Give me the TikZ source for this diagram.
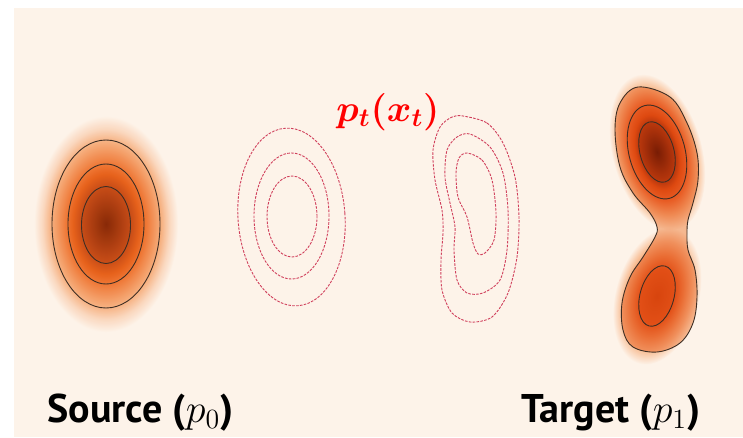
\documentclass[tikz,border=0pt]{standalone}
\usepackage{amsmath}
\usepackage{fontspec}
\setsansfont{PT Sans}
\usepackage{xcolor}
\usepackage{tikz}
\usetikzlibrary{positioning, calc}

\definecolor{bgcol}{HTML}{FDF3E9}
\definecolor{dashred}{HTML}{D0405C}
\definecolor{contcol}{HTML}{3E2E24}
\definecolor{necklight}{HTML}{F7C29E}
% blob colours
\definecolor{sA}{HTML}{8A2C08}
\definecolor{sB}{HTML}{C8501A}
\definecolor{sC}{HTML}{E8661E}
\definecolor{sD}{HTML}{F07A36}
\definecolor{sE}{HTML}{F8B88A}
\definecolor{sF}{HTML}{FCE2D0}
\definecolor{uA}{HTML}{7E2808}
\definecolor{uB}{HTML}{C24E18}
\definecolor{uD}{HTML}{F28040}
\definecolor{uE}{HTML}{F9BE92}
\definecolor{lA}{HTML}{E0601A}
\definecolor{lB}{HTML}{EC6E28}
\definecolor{lC}{HTML}{F49A60}
\definecolor{lE}{HTML}{FAC8A4}

% radial shadings for the densities (0bp = centre, 25bp = edge of the shaded ellipse)
\pgfdeclareradialshading{srcblob}{\pgfpointorigin}{%
  color(0bp)=(sA); color(8.5bp)=(sB); color(11.5bp)=(sC); color(13.5bp)=(sD);
  color(19bp)=(sE); color(22bp)=(sF); color(25bp)=(white); color(50bp)=(white)}
\pgfdeclareradialshading{upblob}{\pgfpointorigin}{%
  color(0bp)=(uA); color(9.5bp)=(uB); color(12bp)=(sC); color(15.5bp)=(uD);
  color(20bp)=(uE); color(25bp)=(white); color(50bp)=(white)}
\pgfdeclareradialshading{lowblob}{\pgfpointorigin}{%
  color(0bp)=(lA); color(10bp)=(lB); color(15bp)=(lC); color(20bp)=(lE);
  color(25bp)=(white); color(50bp)=(white)}

\begin{document}
\begin{tikzpicture}[
  x=1pt, y=1pt,
  contour/.style={draw=contcol, line width=0.9pt},
  flowline/.style={draw=dashred, line width=0.9pt, dash pattern=on 2.6pt off 1.3pt},
  lbl/.style={font=\fontsize{20.74}{24}\selectfont\sffamily\bfseries, scale=1.93, transform shape,
    anchor=base west, inner sep=0pt},
  ptlbl/.style={font=\fontsize{20.74}{24}\selectfont\boldmath, scale=1.8, transform shape,
    text=red, inner sep=0pt}
]
\useasboundingbox (0,0) rectangle (743,437);
% background
\fill[bgcol] (14,0) rectangle (743,429);

% source p0
\shade[shading=srcblob, blend mode=multiply] (106,213) ellipse [x radius=72, y radius=108];
\draw[contour] (106,213) ellipse [x radius=54, y radius=84];
\draw[contour] (106,213) ellipse [x radius=38, y radius=60];
\draw[contour] (106,212) ellipse [x radius=24.5, y radius=38.5];

% target p1 (two modes)
\fill[necklight, blend mode=multiply] plot[smooth cycle, tension=0.6] coordinates {
  (638,350) (670,340) (687,314) (697,284) (698,257) (693,234) (688,217) (687,204)
  (688,187) (695,167) (697,140) (693,114) (680,94) (657,85) (633,90) (623,107)
  (622,134) (630,160) (643,180) (655,200) (657,210) (650,224) (633,244) (620,270)
  (615,307) (620,334)};
\shade[shading=upblob, blend mode=multiply, transform canvas={rotate around={15:(657,285)}}]
  (657,285) ellipse [x radius=45, y radius=80];
\shade[shading=lowblob, blend mode=multiply, transform canvas={rotate around={-15:(657,141)}}]
  (657,141) ellipse [x radius=42, y radius=70];
\draw[contour] plot[smooth cycle, tension=0.6] coordinates {
  (638,350) (670,340) (687,314) (697,284) (698,257) (693,234) (688,217) (687,204)
  (688,187) (695,167) (697,140) (693,114) (680,94) (657,85) (633,90) (623,107)
  (622,134) (630,160) (643,180) (655,200) (657,210) (650,224) (633,244) (620,270)
  (615,307) (620,334)};
\draw[contour, rotate around={15:(657,285)}] (657,285) ellipse [x radius=28, y radius=48];
\draw[contour, rotate around={15:(657,285)}] (657,285) ellipse [x radius=17, y radius=31];
\draw[contour, rotate around={-15:(657,141)}] (657,141) ellipse [x radius=17, y radius=31];

% intermediate p_t, left
\draw[flowline, rotate around={4:(291.5,220)}] (291.5,220) ellipse [x radius=53.5, y radius=89];
\draw[flowline] (291.5,221) ellipse [x radius=37.5, y radius=63];
\draw[flowline] (292,220.5) ellipse [x radius=25, y radius=40.5];

% intermediate p_t, right
\draw[flowline] plot[smooth cycle] coordinates {
  (463,321) (487,314) (503,294) (515,260) (519,220) (517,180) (508,144) (492,120)
  (470,115) (452,124) (442,147) (441,177) (443,204) (442,227) (435,257) (433,287)
  (440,310) (452,320)};
\draw[flowline] plot[smooth cycle] coordinates {
  (470,303) (490,290) (503,264) (508,227) (507,187) (500,157) (483,144) (467,144)
  (457,157) (454,187) (455,210) (450,234) (445,260) (447,287) (457,300)};
\draw[flowline] plot[smooth cycle] coordinates {
  (467,284) (482,277) (492,257) (496,224) (494,197) (485,184) (478,183) (473,194)
  (467,220) (458,240) (456,264) (459,279)};

% labels
\node[lbl] (srclabel) at (47,15) {Source ($p_0$)};
\node[lbl] (tgtlabel) at (521,15) {Target ($p_1$)};
\node[ptlbl] (ptlabel) at (388,325) {$p_t(x_t)$};

\end{tikzpicture}
\end{document}
